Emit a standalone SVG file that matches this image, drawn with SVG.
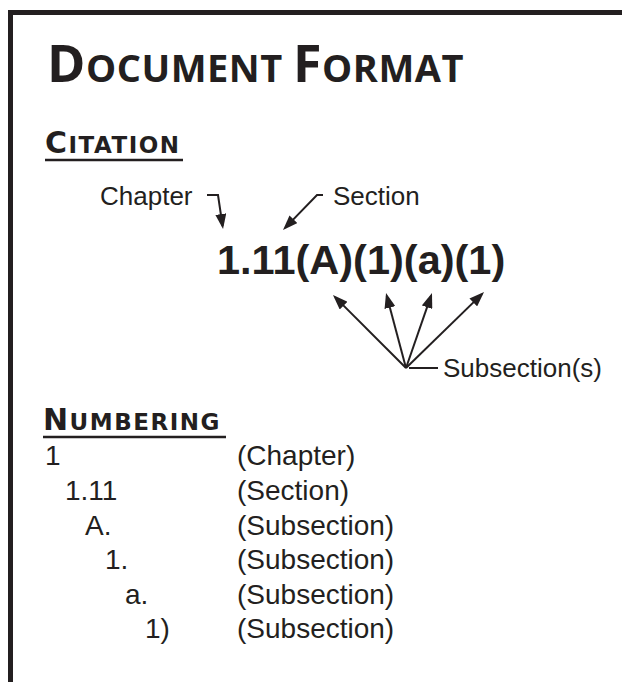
<svg xmlns="http://www.w3.org/2000/svg" width="622" height="682" viewBox="0 0 622 682">
<defs>
<style>
.t{font-family:"Liberation Sans",Arial,sans-serif;fill:#231f20}
.ti{font-family:"Open Sans","Liberation Sans",sans-serif;font-weight:700;fill:#231f20;letter-spacing:0.5px}
.hd{font-family:"DejaVu Sans","Liberation Sans",sans-serif;font-weight:700;fill:#231f20;letter-spacing:1.5px;font-size:23px}
.lbl{font-size:26px}
.row{font-size:28px}
.ln{stroke:#231f20;stroke-width:2;fill:none}
.ul{stroke:#231f20;stroke-width:2.5}
</style>
<marker id="ah" markerUnits="userSpaceOnUse" markerWidth="15" markerHeight="11" refX="12" refY="5.5" orient="auto"><path d="M0,0 L15,5.5 L0,11 z" fill="#231f20"/></marker>
</defs>
<rect width="622" height="682" fill="#fff"/>
<g id="frame"><path d="M10.5,682 V12.5 H622" stroke="#231f20" stroke-width="5" fill="none"/></g>
<g id="title"><text x="47" y="82" class="ti" font-size="38"><tspan font-size="52">D</tspan>OCUMENT <tspan font-size="52">F</tspan>ORMAT</text></g>
<g id="citation-header"><text x="45" y="153" class="hd"><tspan font-size="30">C</tspan>ITATION</text><line class="ul" x1="45" y1="160" x2="183" y2="160"/></g>
<g id="chapter-label"><text x="100" y="205" class="t lbl">Chapter</text></g>
<g id="section-label"><text x="333" y="205" class="t lbl">Section</text></g>
<g id="citation"><text x="217" y="274" class="t" font-weight="700" font-size="41.5">1.11(A)(1)(a)(1)</text></g>
<g id="subsection-label"><text x="443" y="377" class="t lbl">Subsection(s)</text></g>
<g id="connectors">
<path class="ln" d="M207,195 H218 L222.6,226" marker-end="url(#ah)"/>
<path class="ln" d="M323,195 H317 L285.1,227.9" marker-end="url(#ah)"/>
<line class="ln" x1="406" y1="368" x2="335.1" y2="297.1" marker-end="url(#ah)"/>
<line class="ln" x1="406" y1="368" x2="386.8" y2="295.9" marker-end="url(#ah)"/>
<line class="ln" x1="406" y1="368" x2="431" y2="295.8" marker-end="url(#ah)"/>
<line class="ln" x1="406" y1="368" x2="481.9" y2="294.1" marker-end="url(#ah)"/>
<line class="ln" x1="409" y1="368" x2="438" y2="368"/>
</g>
<g id="numbering-header"><text x="43" y="430" class="hd"><tspan font-size="30">N</tspan>UMBERING</text><line class="ul" x1="43" y1="437" x2="226" y2="437"/></g>
<g id="row-chapter"><text x="45" y="465" class="t row">1</text><text x="237" y="465" class="t row">(Chapter)</text></g>
<g id="row-section"><text x="65" y="500" class="t row">1.11</text><text x="237" y="500" class="t row">(Section)</text></g>
<g id="row-sub-A"><text x="85" y="535" class="t row">A.</text><text x="237" y="535" class="t row">(Subsection)</text></g>
<g id="row-sub-1"><text x="105" y="569" class="t row">1.</text><text x="237" y="569" class="t row">(Subsection)</text></g>
<g id="row-sub-a"><text x="125" y="604" class="t row">a.</text><text x="237" y="604" class="t row">(Subsection)</text></g>
<g id="row-sub-1p"><text x="145" y="638" class="t row">1)</text><text x="237" y="638" class="t row">(Subsection)</text></g>
</svg>
